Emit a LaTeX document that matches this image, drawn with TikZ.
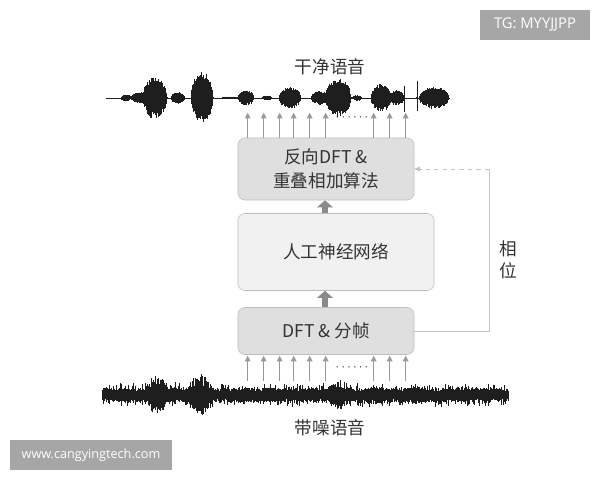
\documentclass[tikz,border=0pt]{standalone}
\usepackage{fontspec}
\setmainfont{Noto Sans CJK SC}
\newfontfamily\wmfont{Open Sans}
\usetikzlibrary{arrows.meta,calc,positioning}

\definecolor{boxfill}{HTML}{DFDFDF}
\definecolor{nnfill}{HTML}{F1F1F1}
\definecolor{boxline}{HTML}{BDBDBD}
\definecolor{textgray}{HTML}{333333}
\definecolor{arrowgray}{HTML}{9A9A9A}
\definecolor{fatgray}{HTML}{8A8A8A}
\definecolor{phasegray}{HTML}{C4C4C4}
\definecolor{wmgray}{HTML}{A6A6A6}
\definecolor{wavecol}{HTML}{1E1E1E}

\tikzset{
  stage/.style={draw=boxline, fill=boxfill, rounded corners=5pt, align=center,
    text=textgray, font=\fontsize{12.5}{17}\selectfont},
  up arrow/.style={draw=arrowgray, line width=0.8pt, -{Triangle[length=4pt,width=4pt]}},
  fat arrow/.style={draw=fatgray, line width=4pt, -{Triangle[length=5pt,width=11pt]}},
  phase line/.style={draw=phasegray, line width=0.6pt},
  wave/.style={draw=wavecol, line width=0.5pt},
  caption/.style={text=textgray, font=\fontsize{12.5}{15}\selectfont},
  watermark/.style={fill=wmgray, text=white, inner sep=0pt,
    font=\wmfont\fontsize{9}{10}\selectfont}
}

\begin{document}
\begin{tikzpicture}[x=0.025cm, y=-0.025cm]
  \useasboundingbox (0,0) rectangle (600,480);
  \pgfmathsetseed{11}

  % watermarks
  \node[watermark, minimum width=2.75cm, minimum height=0.75cm,
    font=\wmfont\fontsize{10.5}{11}\selectfont] (tg) at (535,25) {TG: MYYJJPP};
  \node[watermark, minimum width=4.05cm, minimum height=0.75cm] (www) at (91,455) {www.cangyingtech.com};

  % processing stages
  \begin{scope}[every node/.style={stage}]
    \node[minimum width=4.4cm, minimum height=1.55cm] (idft) at (326,169) {反向DFT \&\\重叠相加算法};
    \node[fill=nnfill, minimum width=4.9cm, minimum height=1.925cm] (dnn) at (336,252) {人工神经网络};
    \node[minimum width=4.4cm, minimum height=1.175cm] (dft) at (326,331) {DFT \& 分帧};
  \end{scope}

  \node[caption] (clean) at (330,67) {干净语音};
  \node[caption] (noisy) at (330,428) {带噪语音};
  \node[caption, align=center, font=\fontsize{12.5}{16}\selectfont] (phase) at (508,260) {相\\位};

  % fat arrows between stages
  \path[fat arrow] (dft.north -| 325,0) -- (dnn.south -| 325,0);
  \path[fat arrow] (dnn.north -| 325,0) -- (idft.south -| 325,0);

  % frame arrows
  \foreach \dx in {10,26,42,56,72,88,136,152,168} {
    \draw[up arrow] ($(idft.north west)+(\dx,0)$) -- ++(0,-25);
    \draw[up arrow] ($(dft.south west)+(\dx,26)$) -- ($(dft.south west)+(\dx,1)$);
  }
  \node[text=textgray, inner sep=0pt] (dotsup) at (352,118) {\small$\cdots\cdots$};
  \node[text=textgray, inner sep=0pt] (dotsdn) at (352,368) {\small$\cdots\cdots$};

  % phase path
  \coordinate (ph1) at (489,331);
  \coordinate (ph2) at (489,169);
  \draw[phase line] (dft.east) -- (ph1) -- (ph2);
  \draw[phase line, dashed, -{Triangle[length=4pt,width=3.5pt]}] (ph2) -- (idft.east);

  % clean speech
  \draw[wave, line width=0.3pt] (106,98) -- (450,98);
  \foreach \c/\w/\a in {126/5/3.5, 141/10/6, 155/12/21, 149/6/9, 178/7/6, 202/11/26,
      230/8/1.5, 246/8/8, 267/5/2.5, 290/11/11, 320/9/7, 338/13/19, 357/5/3,
      381/10/14, 397/7/8, 404/0.8/15, 417/0.8/18, 434/15/11} {
    \pgfmathtruncatemacro\n{max(2,2*\w/0.6)}
    \foreach \i in {0,...,\n} {
      \pgfmathsetmacro\xx{\c-\w+\i*(2*\w/\n)}
      \pgfmathsetmacro\t{(\xx-\c)/\w}
      \pgfmathsetmacro\env{\a*(max(0.001,1-\t*\t))^0.5}
      \pgfmathsetmacro\up{\env*(0.75+0.25*rnd)}
      \pgfmathsetmacro\dn{\env*(0.65+0.35*rnd)}
      \draw[wave] (\xx,98-\up) -- (\xx,98+\dn);
    }
  }

  % noisy speech
  \foreach \i in {0,...,812} {
    \pgfmathsetmacro\xx{102+0.5*\i}
    \pgfmathsetmacro\up{3.5+3.5*rnd+6*rnd^6}
    \pgfmathsetmacro\dn{3.5+3.5*rnd+6*rnd^6}
    \draw[wave] (\xx,395-\up) -- (\xx,395+\dn);
  }
  \foreach \c/\w/\a in {157/12/20, 200/14/21, 245/14/7, 290/12/6, 340/15/15,
      375/14/10, 418/12/10, 455/16/6} {
    \pgfmathtruncatemacro\n{2*\w/0.6}
    \foreach \i in {0,...,\n} {
      \pgfmathsetmacro\xx{\c-\w+\i*0.6}
      \pgfmathsetmacro\t{(\xx-\c)/\w}
      \pgfmathsetmacro\env{\a*(max(0.001,1-\t*\t))^0.7}
      \pgfmathsetmacro\up{\env*(0.45+0.55*rnd)}
      \pgfmathsetmacro\dn{\env*(0.45+0.55*rnd)}
      \draw[wave] (\xx,395-\up) -- (\xx,395+\dn);
    }
  }
\end{tikzpicture}
\end{document}
